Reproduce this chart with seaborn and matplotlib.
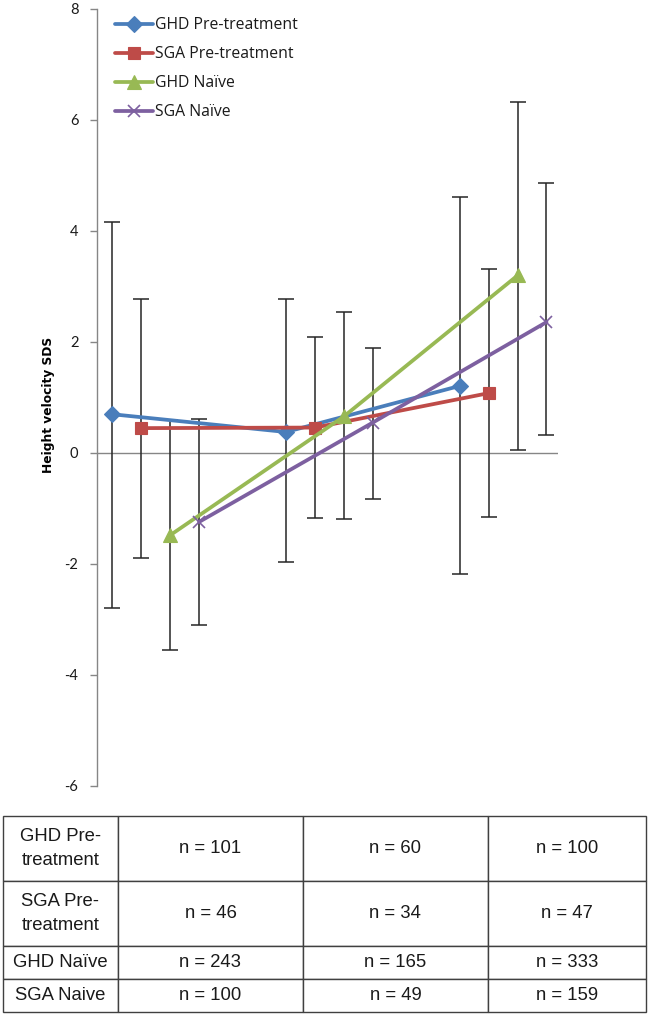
import numpy as np
import pandas as pd
import matplotlib
matplotlib.use("Agg")
import matplotlib.pyplot as plt
import seaborn as sns

# ---------------- data ----------------
series = ["GHD Pre-treatment", "SGA Pre-treatment", "GHD Naïve", "SGA Naïve"]
n_timepoints = 3

ghd_pre_mean = [0.69, 0.37, 1.20]
ghd_pre_upper = [4.15, 2.77, 4.60]
ghd_pre_lower = [-2.80, -1.97, -2.19]

sga_pre_mean = [0.44, 0.45, 1.07]
sga_pre_upper = [2.77, 2.09, 3.31]
sga_pre_lower = [-1.90, -1.18, -1.17]

ghd_naive_mean = [-1.49, 0.65, 3.19]
ghd_naive_upper = [0.59, 2.54, 6.32]
ghd_naive_lower = [-3.56, -1.19, 0.05]

sga_naive_mean = [-1.25, 0.54, 2.35]
sga_naive_upper = [0.60, 1.89, 4.86]
sga_naive_lower = [-3.11, -0.83, 0.31]

y_ticks = [-6, -4, -2, 0, 2, 4, 6, 8]
y_label = "Height velocity SDS"

table_rows = ["GHD Pre-\ntreatment", "SGA Pre-\ntreatment", "GHD Naïve", "SGA Naive"]
n_ghd_pre = [101, 60, 100]
n_sga_pre = [46, 34, 47]
n_ghd_naive = [243, 165, 333]
n_sga_naive = [100, 49, 159]

# ---------------- style ----------------
sns.set_theme(style="white")
plt.rcParams["font.family"] = ["Lato", "DejaVu Sans"]

colors = ["#4A7EBB", "#BE4B48", "#98B954", "#7D60A0"]
markers = ["D", "s", "^", "x"]
msizes = [8, 8.5, 10, 9]
offsets = [-0.25, -0.0833, 0.0833, 0.25]

means = [ghd_pre_mean, sga_pre_mean, ghd_naive_mean, sga_naive_mean]
uppers = [ghd_pre_upper, sga_pre_upper, ghd_naive_upper, sga_naive_upper]
lowers = [ghd_pre_lower, sga_pre_lower, ghd_naive_lower, sga_naive_lower]

fig = plt.figure(figsize=(6.5, 10.17), dpi=100)
ax = fig.add_axes([0.1492, 0.2276, 0.7092, 0.764])

ax.axhline(0, color="#868686", lw=1.0, zorder=1)

for i, name in enumerate(series):
    x = np.arange(n_timepoints) + offsets[i]
    m = np.array(means[i])
    up = np.array(uppers[i])
    lo = np.array(lowers[i])
    sns.lineplot(x=x, y=m, ax=ax, color=colors[i], lw=2.7, marker=markers[i],
                 markersize=msizes[i], markeredgecolor=colors[i],
                 markerfacecolor=colors[i],
                 markeredgewidth=1.2 if markers[i] == "x" else 0.8,
                 sort=False, errorbar=None, label=name, zorder=3)
    ax.errorbar(x, m, yerr=[m - lo, up - m], fmt="none", ecolor="#262626",
                elinewidth=1.1, capsize=5.5, capthick=1.1, zorder=2.5)

ax.set_xlim(-0.338, 2.316)
ax.set_ylim(-6, 8)
ax.set_yticks(y_ticks)
ax.set_yticklabels([str(t) for t in y_ticks], fontsize=10.5, color="#1a1a1a")
ax.set_xticks([])
for s in ["top", "right", "bottom"]:
    ax.spines[s].set_visible(False)
ax.spines["left"].set_color("#868686")
ax.spines["left"].set_linewidth(1.0)
ax.tick_params(axis="y", which="major", left=True, direction="out", length=5,
               width=1.0, color="#868686", pad=8.4)
ax.set_ylabel(y_label, fontsize=8.8, fontweight="bold", color="#000000",
              family=["DejaVu Sans"])
ax.yaxis.set_label_coords(-0.091, 0.49)

leg = ax.legend(loc="upper left", bbox_to_anchor=(0.039, 0.9888), frameon=False,
                borderpad=0, borderaxespad=0,
                prop={"family": ["Open Sans", "DejaVu Sans"], "size": 11.3},
                handlelength=2.42, handletextpad=0.13, labelspacing=0.83)
for t in leg.get_texts():
    t.set_color("#1a1a1a")

# ---------------- table ----------------
tax = fig.add_axes([0.0046, 0.0049, 0.989, 0.1927])
tax.axis("off")
counts = [n_ghd_pre, n_sga_pre, n_ghd_naive, n_sga_naive]
cell_text = [[r] + [f"n = {v}" for v in row] for r, row in zip(table_rows, counts)]
tbl = tax.table(cellText=cell_text, cellLoc="center", bbox=[0, 0, 1, 1])
tbl.auto_set_font_size(False)
col_w = [115, 185, 185, 158]
row_h = [65, 65, 33, 33]
for (r, c), cell in tbl.get_celld().items():
    cell.set_width(col_w[c])
    cell.set_height(row_h[r])
    cell.set_edgecolor("#404040")
    cell.set_linewidth(1.0)
    txt = cell.get_text()
    txt.set_fontsize(13.3)
    txt.set_family(["Liberation Sans", "DejaVu Sans"])
    txt.set_color("#1a1a1a")
    txt.set_linespacing(1.55)

fig.savefig("out.png", dpi=100)
